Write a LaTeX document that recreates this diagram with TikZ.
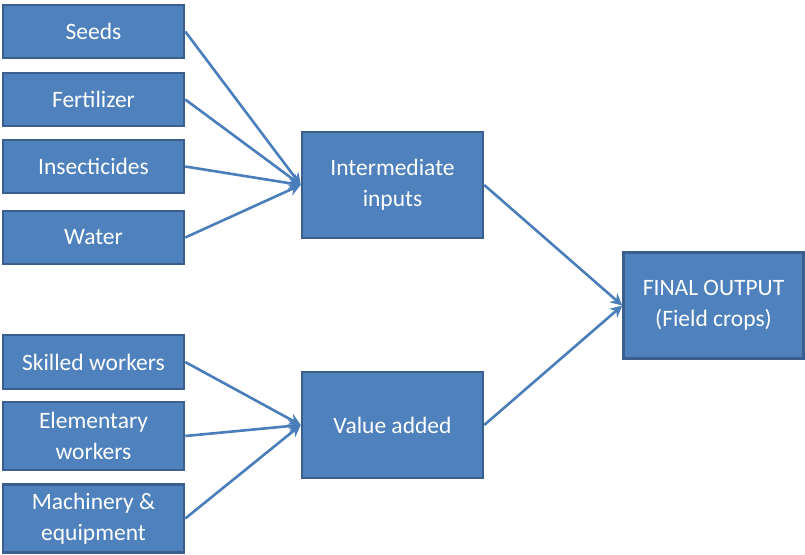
\documentclass[tikz,border=0pt]{standalone}
\usepackage{fontspec}
\setmainfont{Carlito}
\usetikzlibrary{arrows.meta}
\begin{document}
\begin{tikzpicture}[x=1pt,y=-1pt,
  box/.style={draw=boxborder,fill=boxfill,line width=2.5pt,text=white,
    minimum width=181pt,align=center,inner sep=2pt,
    font=\fontsize{23.5}{31}\selectfont},
  conn/.style={draw=linecol,line width=2.6pt,-{Stealth[length=12pt,width=12pt,inset=4pt]}}]
\definecolor{boxfill}{HTML}{4F81BD}
\definecolor{boxborder}{HTML}{3A5F8E}
\definecolor{linecol}{HTML}{4A7EBB}
\useasboundingbox (0,0) rectangle (805,554);
\node[box,minimum height=53pt] (seeds) at (93.5,31.5) {Seeds};
\node[box,minimum height=53pt] (fert) at (93.5,99.5) {Fertilizer};
\node[box,minimum height=53pt] (insect) at (93.5,166.5) {Insecticides};
\node[box,minimum height=53pt] (water) at (93.5,237.5) {Water};
\node[box,minimum height=54pt] (skilled) at (93.5,362) {Skilled workers};
\node[box,minimum height=68pt] (elem) at (93.5,436) {Elementary\\workers};
\node[box,minimum height=68pt] (mach) at (93.5,518.5) {Machinery \&\\equipment};
\node[box,minimum height=106pt] (inter) at (392.5,185) {Intermediate\\inputs};
\node[box,minimum height=106pt] (value) at (392.5,425) {Value added};
\node[box,minimum height=106pt,minimum width=180pt] (final) at (713.5,305.5) {FINAL OUTPUT\\(Field crops)};
\foreach \s in {seeds,fert,insect,water} \draw[conn] (\s.east) -- (inter.west);
\foreach \s in {skilled,elem,mach} \draw[conn] (\s.east) -- (value.west);
\draw[conn] (inter.east) -- (final.west);
\draw[conn] (value.east) -- (final.west);
\end{tikzpicture}
\end{document}
